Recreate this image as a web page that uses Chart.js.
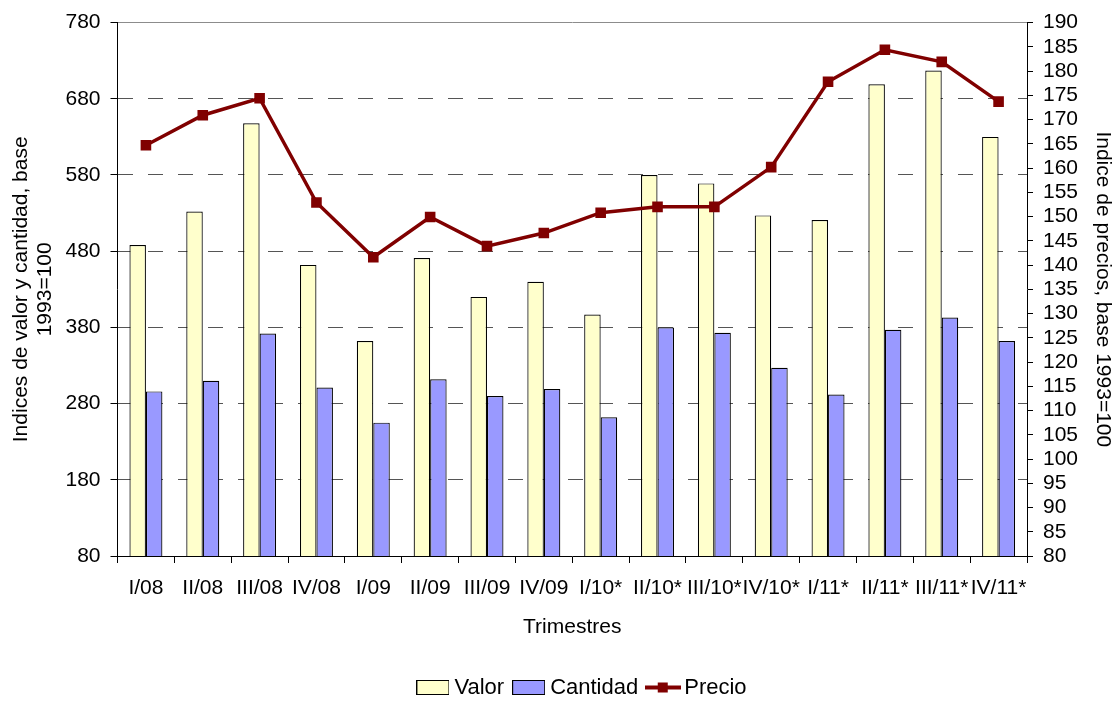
<!DOCTYPE html>
<html>
<head>
<meta charset="utf-8">
<script src="https://cdn.jsdelivr.net/npm/chart.js@4/dist/chart.umd.min.js"></script>
<style>
  html, body { margin: 0; padding: 0; background: #fff; }
  #wrap { width: 1117px; height: 702px; }
</style>
</head>
<body>
<div id="wrap"><canvas id="chart" width="1117" height="702"></canvas></div>
<script>
// datos
const trimestres = ['I/08', 'II/08', 'III/08', 'IV/08', 'I/09', 'II/09', 'III/09', 'IV/09',
  'I/10*', 'II/10*', 'III/10*', 'IV/10*', 'I/11*', 'II/11*', 'III/11*', 'IV/11*'];
const valor = [488, 532, 648, 462, 362, 471, 420, 440, 397, 580, 569, 527, 521, 699, 717, 630];
const cantidad = [296, 310, 372, 301, 255, 312, 290, 299, 262, 380, 373, 327, 292, 377, 393, 362];
const precio = [164.7, 170.9, 174.4, 152.9, 141.6, 149.9, 143.9, 146.6, 150.8, 152.0, 152.0, 160.2, 177.8, 184.4, 181.9, 173.7];

const ejeIzq = { min: 80, max: 780, paso: 100 };
const ejeDer = { min: 80, max: 190, paso: 5 };

const FONT = "'Liberation Sans', Arial, sans-serif";
Chart.defaults.font.family = FONT;
Chart.defaults.font.size = 21;
Chart.defaults.color = '#000';

// iconos de la leyenda
const iconoBarra = (relleno) => {
  const c = document.createElement('canvas');
  c.width = 33; c.height = 15;
  const g = c.getContext('2d');
  g.fillStyle = relleno;
  g.fillRect(0.5, 0.5, 32, 14);
  g.strokeStyle = '#000';
  g.lineWidth = 1;
  g.strokeRect(0.5, 0.5, 32, 14);
  return c;
};
const iconoLinea = () => {
  const c = document.createElement('canvas');
  c.width = 36; c.height = 15;
  const g = c.getContext('2d');
  g.strokeStyle = '#800000';
  g.lineWidth = 4;
  g.beginPath(); g.moveTo(0, 7.5); g.lineTo(36, 7.5); g.stroke();
  g.fillStyle = '#800000';
  g.fillRect(13, 2.5, 10, 10);
  return c;
};
const iconos = [iconoBarra('#FFFFCC'), iconoBarra('#9999FF'), iconoLinea()];

// la leyenda del original esta algo corrida a la derecha
const moverLeyenda = {
  id: 'moverLeyenda',
  afterLayout(chart) {
    chart.legend.left += 26;
    chart.legend.right += 26;
  }
};

const ctx = document.getElementById('chart').getContext('2d');
new Chart(ctx, {
  type: 'bar',
  data: {
    labels: trimestres,
    datasets: [
      {
        label: 'Valor', data: valor, yAxisID: 'y', order: 1,
        backgroundColor: '#FFFFCC', borderColor: '#000', borderWidth: 1.2,
        categoryPercentage: 0.58, barPercentage: 1
      },
      {
        label: 'Cantidad', data: cantidad, yAxisID: 'y', order: 2,
        backgroundColor: '#9999FF', borderColor: '#000', borderWidth: 1.2,
        categoryPercentage: 0.58, barPercentage: 1
      },
      {
        type: 'line', label: 'Precio', data: precio, yAxisID: 'y1', order: 0,
        borderColor: '#800000', backgroundColor: '#800000', borderWidth: 3.5,
        pointStyle: 'rect', pointRadius: 7.5, pointBorderWidth: 0,
        pointBackgroundColor: '#800000', tension: 0
      }
    ]
  },
  plugins: [moverLeyenda],
  options: {
    responsive: false,
    animation: false,
    devicePixelRatio: 1,
    layout: { padding: { top: 20, left: 0, right: 0, bottom: -6.5 } },
    plugins: {
      tooltip: { enabled: false },
      legend: {
        position: 'bottom',
        labels: {
          usePointStyle: true,
          pointStyleWidth: 21,
          padding: 14,
          font: { size: 22 },
          color: '#000',
          generateLabels: (chart) => chart.data.datasets.map((ds, i) => ({
            text: ds.label,
            pointStyle: iconos[i],
            fillStyle: ds.backgroundColor,
            strokeStyle: ds.borderColor,
            lineWidth: 0,
            hidden: false,
            datasetIndex: i,
            fontColor: '#000'
          }))
        }
      }
    },
    scales: {
      x: {
        afterFit: (s) => { s.height = 106.5; },
        grid: { offset: true, drawOnChartArea: false, drawTicks: true, tickLength: 7, tickColor: '#000' },
        border: { color: '#000', width: 1 },
        ticks: { autoSkip: false, maxRotation: 0, minRotation: 0, padding: 13, font: { size: 21 } },
        title: { display: true, text: 'Trimestres', font: { size: 21 }, padding: { top: 4, bottom: 23 } }
      },
      y: {
        position: 'left',
        min: ejeIzq.min, max: ejeIzq.max,
        afterFit: (s) => { s.width = 117.5; },
        afterBuildTicks: (s) => {
          s.ticks = [];
          for (let v = ejeIzq.min; v <= ejeIzq.max; v += ejeIzq.paso) s.ticks.push({ value: v });
        },
        grid: {
          drawTicks: true, tickLength: 7, tickColor: '#000', tickBorderDash: [],
          lineWidth: 1,
          color: (c) => {
            if (c.tick.value === ejeIzq.min) return 'rgba(0,0,0,0)';
            if (c.tick.value === ejeIzq.max) return '#8c8c8c';
            return '#555';
          }
        },
        border: {
          color: '#000', width: 1,
          dash: (c) => (c.tick && c.tick.value === ejeIzq.max ? [] : [15, 15])
        },
        ticks: { autoSkip: false, padding: 10, font: { size: 21 } },
        title: {
          display: true,
          text: ['Indices de valor y cantidad, base', '1993=100'],
          font: { size: 21, lineHeight: 1.15 },
          padding: { top: 9, bottom: 0 }
        }
      },
      y1: {
        position: 'right',
        min: ejeDer.min, max: ejeDer.max,
        afterFit: (s) => { s.width = 90; },
        afterBuildTicks: (s) => {
          s.ticks = [];
          for (let v = ejeDer.min; v <= ejeDer.max; v += ejeDer.paso) s.ticks.push({ value: v });
        },
        grid: { drawOnChartArea: false, drawTicks: true, tickLength: 6, tickColor: '#000' },
        border: { color: '#000', width: 1 },
        ticks: { autoSkip: false, padding: 10, font: { size: 21 } },
        title: {
          display: true,
          text: 'Indice de precios, base 1993=100',
          font: { size: 21 },
          padding: { top: 2, bottom: 0 }
        }
      }
    }
  }
});
</script>
</body>
</html>
